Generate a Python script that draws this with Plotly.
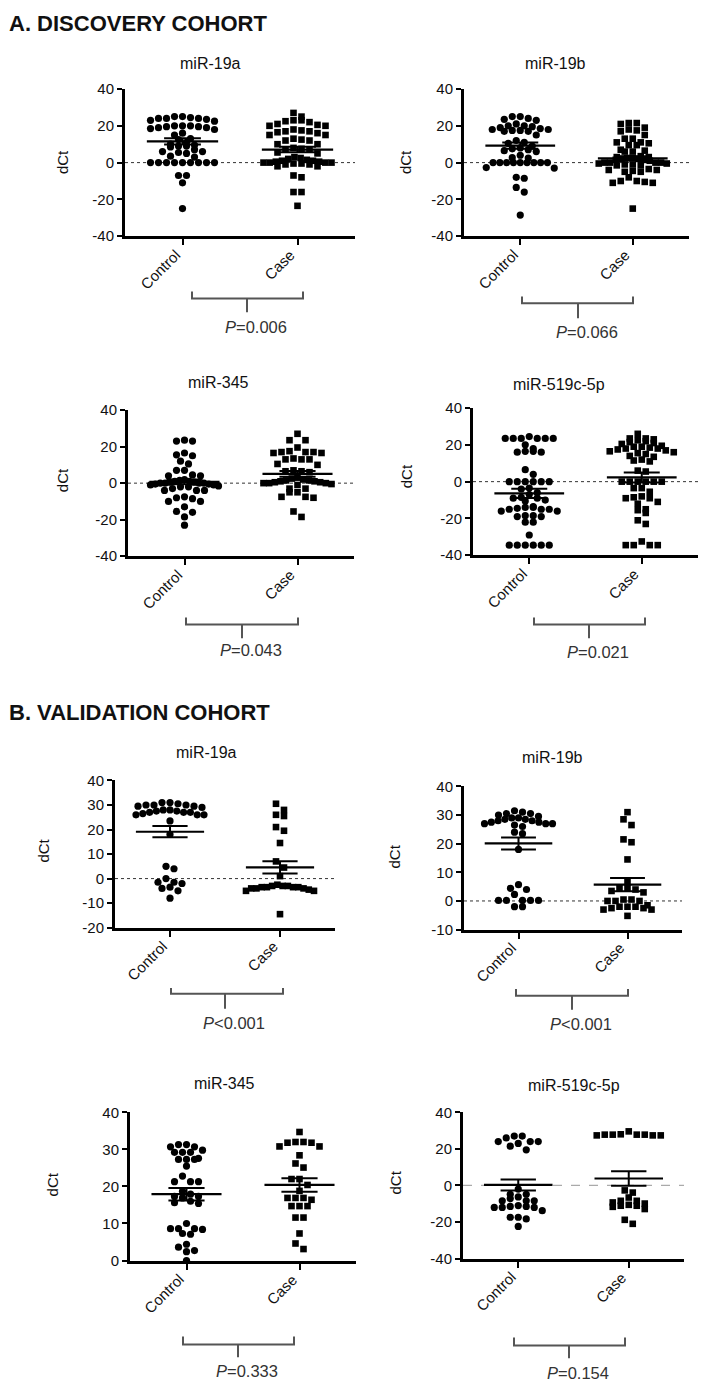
import plotly.graph_objects as go
import numpy as np

W, H = 705, 1392
FONT = "Liberation Sans, Arial, sans-serif"

# ---------------- data ----------------
categories = ["Control", "Case"]
genes = ["miR-19a", "miR-19b", "miR-345", "miR-519c-5p",
         "miR-19a", "miR-19b", "miR-345", "miR-519c-5p"]
p_labels = ["=0.006", "=0.066", "=0.043", "=0.021",
            "<0.001", "<0.001", "=0.333", "=0.154"]

a1_control = [25, 25, 24.5, 24, 24, 24, 23.5, 23, 22.5, 20, 20, 20, 19.5, 19.5, 19, 19, 18.5, 18,
              16, 15, 13, 12.5, 11, 10, 9.5, 9, 9, 8.5, 7, 6, 6, 5.5, 5, 3.5, 3,
              0, 0, 0, 0, 0, 0, 0, 0, 0, -7, -7, -11, -25]
a1_case = [27, 25, 23, 23, 22.5, 22, 21, 20.5, 20, 20, 18, 17.5, 17, 17, 16.5, 16, 15, 15,
           13, 12.5, 12, 12, 10, 10, 8, 7.5, 7, 7, 5.5, 5, 3, 2.5, 2, 1.5,
           1, 1, 0.5, 0.5, 0, 0, 0, 0, -0.5, -0.5, -1, -1, -2, -2, -7, -8, -16, -16, -23.5]
a2_control = [25, 25, 24, 23.5, 23, 21, 20, 20, 19.5, 19, 18.5, 18, 18, 17.5, 17.5, 17, 17,
              15, 12, 11, 10.5, 9, 8, 7.5, 7, 6.5, 6, 4, 2.7, 2.5,
              0, 0, 0, 0, 0, 0, 0, 0, 0, -2.7, -3, -8, -8.5, -13.5, -16, -28.5]
a2_case = [21.5, 21.5, 21, 19, 18, 17.5, 17, 15, 13, 13, 11, 11, 10.5, 9.5, 9.5, 7, 6.5, 6, 6,
           3.5, 3, 3, 2.5, 2.5, 2, 2, 1.5, 1.5, 1, 0, 0, 0, 0, -0.5, -0.5, -1, -1, -1.5, -1.5,
           -3.5, -4, -4, -4.5, -5, -5, -8, -10, -10, -10.5, -11, -11, -25]
a3_control = [23.5, 23, 23, 16.5, 15.5, 15, 12, 10.5, 7, 7, 4.5, 4, 4,
              2, 1.5, 1, 1, 0.5, 0.5, 0, 0, 0, 0, -0.5, -0.5, -1, -1, -1.5,
              -2, -2, -3, -4, -4, -4, -7.5, -8, -8.5, -10, -10, -13, -15.5, -16, -18.5, -23]
a3_case = [27, 23.5, 23.5, 19.5, 17.5, 17, 17, 17, 16.5, 16.5, 13.5, 13, 13, 13, 10.5, 10,
           7, 6.5, 6.5, 6, 3, 2.5, 2, 1.5, 1.5, 1, 1, 0.5, 0.5, 0, 0, 0, -0.5, -1,
           -3, -3, -5, -5, -7.5, -7.5, -8, -15.5, -18.5]
a4_control = [24.5, 23.5, 23.5, 23.5, 23.5, 23.5, 23.5, 20, 18, 16.5, 16.5, 16, 16, 6.5, 4,
              0, 0, 0, 0, 0, 0, -3.5, -4, -6, -7, -8.5, -9, -9, -10, -10.5,
              -13.5, -14, -14, -14.5, -15, -15, -15, -16, -16, -18.5, -18.5, -19, -19,
              -22, -22, -29, -34.5, -34.5, -34.5, -34.5, -34.5, -34.5]
a4_case = [26, 23.5, 23.5, 23, 22.5, 22, 21.5, 21, 20.5, 19.5, 19, 19, 18.5, 18, 18, 17.5, 17,
           16.5, 16, 15.5, 15, 14, 13.5, 12, 11.5, 11, 6, 5.5, 0, 0, 0, 0, 0, 0,
           -3.5, -3.5, -5.5, -8, -8.5, -9, -9, -11, -12, -15, -15.5, -17, -21, -23,
           -32.5, -34.5, -34.5, -34.5, -34.5]
b1_control = [31, 31, 30.5, 30, 30, 30, 29.5, 29.5, 29, 28, 28, 27.5, 27.5, 27, 27, 27, 26.5,
              26, 26, 26, 23.5, 18, 5, 4, 0, -1.5, -1.5, -2, -3.5, -4, -5, -8]
b1_case = [30.5, 28, 26, 25.5, 21, 19.5, 14.5, 7, 4.5, 1, -2.5, -3, -3, -3, -3.5, -3.5, -3.5,
           -3.5, -4, -4, -4, -4.5, -5, -5, -14.5]
b2_control = [31.5, 31, 30.5, 30.5, 30, 29.5, 29, 29, 28.5, 28.5, 28, 28, 27.5, 27.5, 27, 27,
              27, 26.5, 26, 24, 23.5, 18, 5.7, 4.4, 4, 2.3, 0.2, 0.2, 0.2, 0.2, 0.2, -2, -2]
b2_case = [31, 28.5, 26.5, 21.5, 20.5, 14.5, 7, 4.5, 4.5, 4, 3.5, 3, 0.5, 0.5, 0, 0, 0,
           -1.5, -2, -2, -2, -2.5, -2.5, -3, -3, -5.2]
b3_control = [31.3, 31.3, 30.7, 30.7, 29.8, 29.2, 29.2, 29.2, 27.6, 27.3, 27.3, 27.3, 25.5,
              22.8, 21.3, 21.3, 21.3, 18.7, 17.9, 17.3, 17.3, 16.9, 16, 15.6, 15.4,
              10, 8.6, 8.6, 8.6, 8.4, 7.3, 7.1, 4.4, 3.6, 2.7, 2.4, 0]
b3_case = [34.7, 32, 32, 31.8, 31.8, 30.8, 30.8, 28.4, 26.2, 25.1, 22, 22, 20.4, 18.8,
           16.9, 16.9, 16.9, 16.4, 14.7, 14.7, 14.7, 11.6, 11.6, 7.3, 4.6, 3.1]
b4_control = [27, 24, 23, 24, 19.5, 21.5, 24, 27, 26, -2, -4.8, -4.8, -6.3, -7.2, -8.4, -8.4,
              -8.4, -11, -11.5, -11.5, -12, -12, -12, -13.8, -17.4, -17.4, -18.3, -22.4]
b4_case = [29.6, 28, 27.8, 27.4, 27.4, 27.4, 27.8, 27.8, 27.8, -2.7, -3.9, -6.6, -8.4, -8.4,
           -9.3, -9.9, -10.6, -11.1, -11.1, -11.7, -12.9, -18.8, -21]

control_groups = [a1_control, a2_control, a3_control, a4_control,
                  b1_control, b2_control, b3_control, b4_control]
case_groups = [a1_case, a2_case, a3_case, a4_case, b1_case, b2_case, b3_case, b4_case]

control_mean = [11.5, 9.2, 0.7, -6.4, 19.1, 20.1, 17.9, 0.3]
control_sem = [1.7, 1.7, 1.3, 2.5, 2.3, 2.1, 1.7, 3.0]
case_mean = [7.1, 2.3, 5.1, 2.3, 4.6, 5.7, 20.4, 3.8]
case_sem = [1.5, 1.2, 1.6, 2.7, 2.5, 2.3, 1.8, 4.0]

y_ranges = [(-40, 40), (-40, 40), (-40, 40), (-40, 40), (-20, 40), (-10, 40), (0, 40), (-40, 40)]
y_tickvals = [[-40, -20, 0, 20, 40]] * 4 + [[-20, -10, 0, 10, 20, 30, 40],
                                           [-10, 0, 10, 20, 30, 40],
                                           [0, 10, 20, 30, 40],
                                           [-40, -20, 0, 20, 40]]

# ---------------- layout geometry (pixels) ----------------
# (axis left, axis right, top, bottom)
boxes = [(125, 355, 81, 230), (464, 689, 81, 230), (128, 354, 406, 554), (473, 698, 404, 553),
         (115, 335, 781, 930), (464, 682, 787, 932), (130, 356, 1117, 1267), (463, 684, 1117, 1265)]
title_pos = [(210, 55), (555, 55), (218, 378), (559, 380),
             (207, 753), (552, 758), (224, 1088), (574, 1090)]
ylab_pos = [(62, 155), (405, 155), (62, 477), (406, 473),
            (44, 852), (395, 858), (52, 1190), (395, 1188)]
# bracket: x_left, x_right, y_top_ends, y_horizontal, stem_x, stem_bottom, text_y
brackets = [(192, 303, 286, 293, 247, 307, 322), (522, 633, 291, 298, 578, 313, 327),
            (186, 298, 616, 623, 242, 637, 649), (534, 645, 616, 623, 589, 637, 651),
            (171, 283, 991, 997, 225, 1012, 1027), (516, 628, 992, 999, 572, 1013, 1028),
            (183, 294, 1344, 1352, 238, 1365, 1379), (514, 625, 1345, 1353, 569, 1366, 1381)]
XR = (-0.5, 1.5)


def px(x):
    return x / W


def py(y):
    return 1 - y / H


def rows_layout(values, ppx, ppy, bin_px=6.5, gap=8.0, max_half=34.0):
    """Prism-like scatter-dot layout: values within a small pixel band share a row,
    and each row is spread symmetrically around the column centre."""
    vals = np.asarray(values, dtype=float)
    order = list(np.argsort(-vals, kind="stable"))
    offs = np.zeros(len(vals))
    rows = []
    cur = []
    for idx in order:
        if cur and (vals[cur[0]] - vals[idx]) * ppy >= bin_px:
            rows.append(cur)
            cur = []
        cur.append(idx)
    if cur:
        rows.append(cur)
    for r in rows:
        n = len(r)
        sp = gap if n == 1 else min(gap, 2 * max_half / (n - 1))
        pos = [(j - (n - 1) / 2) * sp for j in range(n)]
        arranged = sorted(pos, key=lambda p: (abs(p), p))
        for j, idx in enumerate(r):
            offs[idx] = arranged[j] / ppx
    return offs


fig = go.Figure()
layout = dict(width=W, height=H, margin=dict(l=0, r=0, t=0, b=0),
              paper_bgcolor="white", plot_bgcolor="white", showlegend=False,
              font=dict(family=FONT, color="#111"))
shapes = []
annotations = []

for i in range(8):
    x0, x1, yt, yb = boxes[i]
    ymin, ymax = y_ranges[i]
    ppx = (x1 - x0) / (XR[1] - XR[0])
    ppy = (yb - yt) / (ymax - ymin)
    suffix = "" if i == 0 else str(i + 1)
    xa, ya = "x" + suffix, "y" + suffix

    for gi, (vals, sym, size) in enumerate([(control_groups[i], "circle", 7.2),
                                            (case_groups[i], "square", 6.6)]):
        offs = rows_layout(vals, ppx, ppy)
        fig.add_trace(go.Scatter(x=gi + offs, y=vals, mode="markers", xaxis=xa, yaxis=ya,
                                 marker=dict(symbol=sym, size=size, color="black",
                                             line=dict(width=0)),
                                 cliponaxis=False, hoverinfo="skip"))
    for gi, (m, s) in enumerate([(control_mean[i], control_sem[i]), (case_mean[i], case_sem[i])]):
        hw, cw = 0.31, 0.16
        fig.add_trace(go.Scatter(x=[gi - hw, gi + hw], y=[m, m], mode="lines", xaxis=xa,
                                 yaxis=ya, line=dict(color="black", width=2.2), hoverinfo="skip"))
        for v in (m - s, m + s):
            fig.add_trace(go.Scatter(x=[gi - cw, gi + cw], y=[v, v], mode="lines", xaxis=xa,
                                     yaxis=ya, line=dict(color="black", width=2),
                                     hoverinfo="skip"))
        fig.add_trace(go.Scatter(x=[gi, gi], y=[m - s, m + s], mode="lines", xaxis=xa,
                                 yaxis=ya, line=dict(color="black", width=2), hoverinfo="skip"))

    tick_font = dict(family=FONT, size=15, color="#111")
    layout["xaxis" + suffix] = dict(domain=[px(x0), px(x1)], anchor=ya, range=list(XR),
                                    showline=True, linewidth=3, linecolor="black",
                                    ticks="outside", ticklen=6, tickwidth=2, tickcolor="black",
                                    tickvals=[0, 1], showticklabels=False,
                                    showgrid=False, zeroline=False, fixedrange=True)
    layout["yaxis" + suffix] = dict(domain=[py(yb), py(yt)], anchor=xa, range=[ymin, ymax],
                                    showline=True, linewidth=3, linecolor="black",
                                    ticks="outside", ticklen=5, tickwidth=2, tickcolor="black",
                                    tickvals=y_tickvals[i],
                                    ticktext=[str(v) for v in y_tickvals[i]],
                                    tickfont=tick_font, showgrid=False, zeroline=False,
                                    fixedrange=True)
    for gi, cat in enumerate(categories):
        annotations.append(dict(text=cat, x=gi + 0.03, y=-0.05, xref=xa, yref=ya + " domain",
                                showarrow=False, xanchor="right", yanchor="top", textangle=-45,
                                font=tick_font))

    if ymin < 0:
        if i == 7:
            zl = dict(color="#aaaaaa", width=1.3, dash="dash")
        else:
            zl = dict(color="#333333", width=1, dash="dot")
        shapes.append(dict(type="line", xref=xa + " domain", yref=ya, x0=0, x1=1, y0=0, y1=0,
                           line=zl, layer="below"))

    tx, ty = title_pos[i]
    annotations.append(dict(text=genes[i], x=px(tx), y=py(ty), xref="paper", yref="paper",
                            showarrow=False, xanchor="center", yanchor="middle",
                            font=dict(family=FONT, size=16, color="#111")))
    lx, ly = ylab_pos[i]
    annotations.append(dict(text="dCt", x=px(lx), y=py(ly), xref="paper", yref="paper",
                            showarrow=False, xanchor="center", yanchor="middle", textangle=-90,
                            font=dict(family=FONT, size=15, color="#111")))
    bl, br, bt, bh, sx, sb, pty = brackets[i]
    bc = dict(color="#555555", width=2)
    shapes.append(dict(type="path", xref="paper", yref="paper",
                       path=f"M {px(bl)},{py(bt)} L {px(bl)},{py(bh)} L {px(br)},{py(bh)} L {px(br)},{py(bt)}",
                       line=bc))
    shapes.append(dict(type="line", xref="paper", yref="paper", x0=px(sx), x1=px(sx),
                       y0=py(bh), y1=py(sb), line=bc))
    annotations.append(dict(text="<i>P</i>" + p_labels[i], x=px(sx + 9), y=py(pty),
                            xref="paper", yref="paper", showarrow=False, xanchor="center",
                            yanchor="middle", font=dict(family=FONT, size=16.5, color="#333")))

annotations.append(dict(text="<b>A. DISCOVERY COHORT</b>", x=px(7), y=py(15), xref="paper",
                        yref="paper", showarrow=False, xanchor="left", yanchor="middle",
                        font=dict(family=FONT, size=22, color="#111")))
annotations.append(dict(text="<b>B. VALIDATION COHORT</b>", x=px(7), y=py(712), xref="paper",
                        yref="paper", showarrow=False, xanchor="left", yanchor="middle",
                        font=dict(family=FONT, size=22, color="#111")))

layout["shapes"] = shapes
layout["annotations"] = annotations
fig.update_layout(**layout)
# remove the default 8px page margin so the figure fills the browser window exactly
fig.write_html("out.html",
               config={"displayModeBar": False},
               post_script="document.body.style.margin='0px';"
                           "document.documentElement.style.overflow='hidden';"
                           "document.body.style.overflow='hidden';")
